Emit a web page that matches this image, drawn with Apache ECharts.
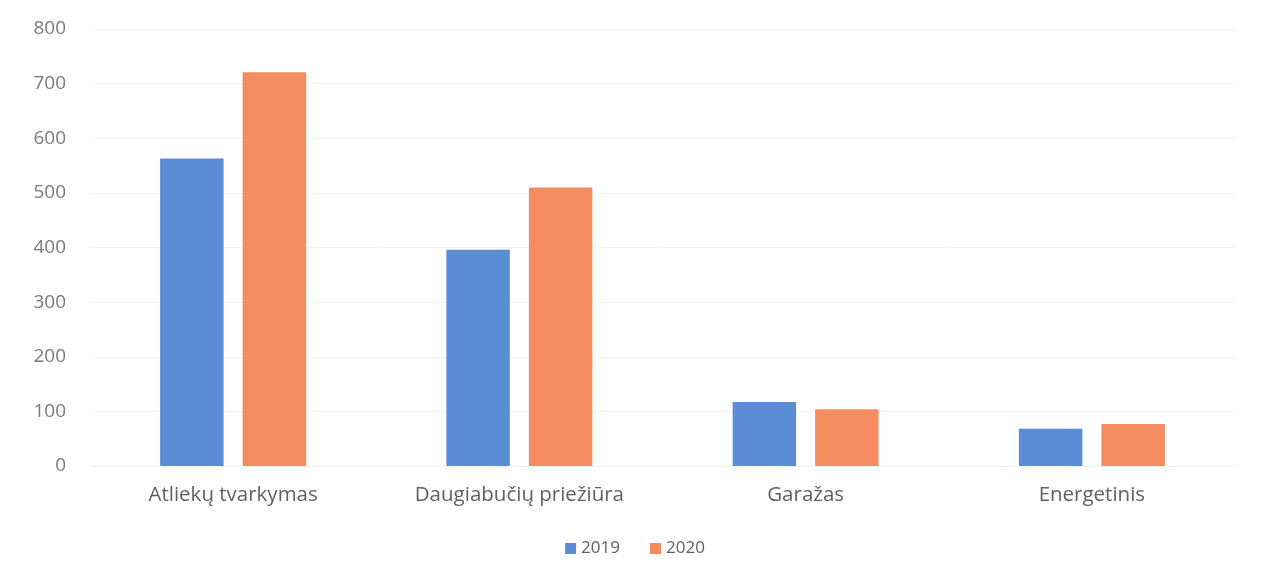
<!DOCTYPE html>
<html><head><meta charset="utf-8">
<script src="https://cdn.jsdelivr.net/npm/echarts@6/dist/echarts.min.js"></script>
<style>html,body{margin:0;padding:0;background:#fff}#c{width:1270px;height:580px}</style>
</head><body><div id="c"></div>
<script>
const categories = ['Atliekų tvarkymas', 'Daugiabučių priežiūra', 'Garažas', 'Energetinis'];
const seriesNames = ['2019', '2020'];
const values2019 = [563, 396, 117, 68];
const values2020 = [721, 510, 104, 77];

const chart = echarts.init(document.getElementById('c'));
chart.setOption({
  backgroundColor: '#ffffff',
  animation: false,
  textStyle: { fontFamily: 'Open Sans, sans-serif' },
  grid: { left: 90, right: 35, top: 29, bottom: 114 },
  legend: {
    data: seriesNames, bottom: 18, left: 'center',
    itemWidth: 11, itemHeight: 11, itemGap: 30,
    icon: 'rect',
    textStyle: { color: '#606060', fontSize: 17, fontFamily: 'Open Sans, sans-serif' }
  },
  xAxis: {
    type: 'category', data: categories,
    axisLine: { show: true, lineStyle: { color: '#f0f0f0' } },
    axisTick: { show: false },
    axisLabel: { color: '#606060', fontSize: 20.5, margin: 19, fontFamily: 'Open Sans, sans-serif' }
  },
  yAxis: {
    type: 'value', min: 0, max: 800, interval: 100,
    axisLine: { show: false }, axisTick: { show: false },
    splitLine: { lineStyle: { color: '#f3f3f3' } },
    axisLabel: { color: '#7a7a7a', fontSize: 19, margin: 24, fontFamily: 'Open Sans, sans-serif' }
  },
  series: [
    { name: seriesNames[0], type: 'bar', data: values2019, itemStyle: { color: '#5b8dd6' }, barGap: '30%', barCategoryGap: '49%' },
    { name: seriesNames[1], type: 'bar', data: values2020, itemStyle: { color: '#f58c60' } }
  ]
});
</script></body></html>
